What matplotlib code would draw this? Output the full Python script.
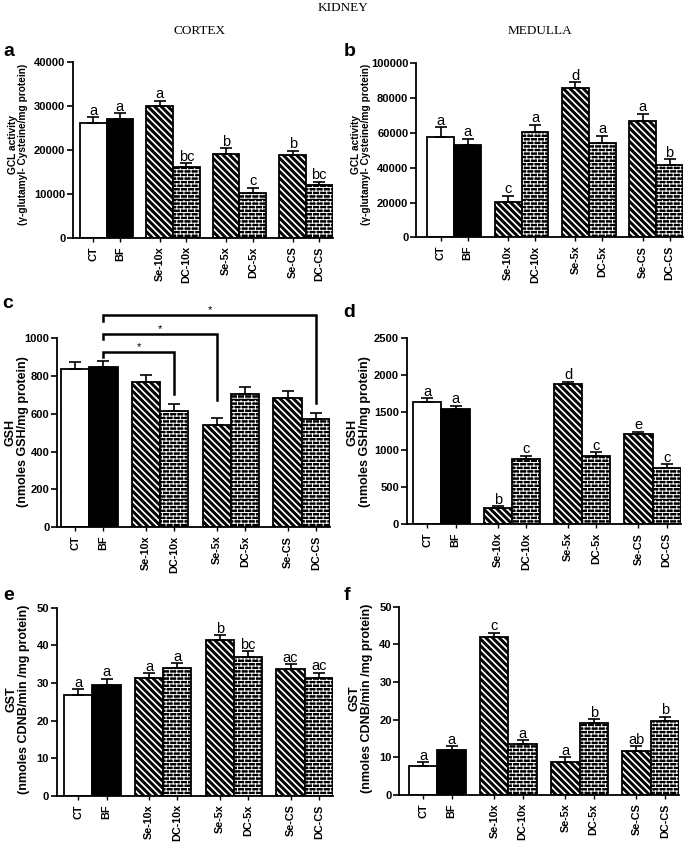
import warnings
import numpy as np
import matplotlib
matplotlib.use("Agg")
import matplotlib.pyplot as plt
import matplotlib.hatch as mhatch
from matplotlib.path import Path

warnings.filterwarnings("ignore")

# ---------------- data ----------------
categories = ["CT", "BF", "Se-10x", "DC-10x", "Se-5x", "DC-5x", "Se-CS", "DC-CS"]
kinds = ["ct", "bf", "se", "dc", "se", "dc", "se", "dc"]

gcl_cortex = [26000, 27100, 29950, 16100, 19050, 10150, 18750, 12050]
gcl_cortex_err = [1400, 1200, 1200, 900, 1300, 1300, 1000, 700]
gcl_cortex_letters = ["a", "a", "a", "bc", "b", "c", "b", "bc"]

gcl_medulla = [57800, 53000, 20100, 60700, 85800, 54400, 66800, 41700]
gcl_medulla_err = [5400, 3700, 3800, 4000, 3300, 4000, 4100, 3100]
gcl_medulla_letters = ["a", "a", "c", "a", "d", "a", "a", "b"]

gsh_cortex = [836, 846, 770, 617, 543, 704, 684, 571]
gsh_cortex_err = [37, 32, 37, 37, 35, 37, 39, 35]

gsh_medulla = [1643, 1540, 215, 875, 1875, 920, 1205, 759]
gsh_medulla_err = [44, 45, 30, 45, 36, 44, 36, 45]
gsh_medulla_letters = ["a", "a", "b", "c", "d", "c", "e", "c"]

gst_cortex = [26.8, 29.6, 31.4, 33.9, 41.4, 37.0, 33.7, 31.4]
gst_cortex_err = [1.5, 1.5, 1.2, 1.3, 1.3, 1.5, 1.3, 1.3]
gst_cortex_letters = ["a", "a", "a", "a", "b", "bc", "ac", "ac"]

gst_medulla = [7.8, 11.9, 41.9, 13.5, 8.8, 19.0, 11.8, 19.6]
gst_medulla_err = [0.9, 1.1, 1.2, 1.1, 1.2, 1.1, 1.1, 1.2]
gst_medulla_letters = ["a", "a", "c", "a", "a", "b", "ab", "b"]

# significance brackets in panel c (BF vs ...)
bracket_from = 1
bracket_to = [3, 4, 7]
bracket_top = [930, 1025, 1122]
bracket_left_end = [903, 997, 1090]
bracket_right_end = [705, 673, 656]

# bar positions (groups separated by a half-bar gap)
positions = [0, 1, 2.5, 3.5, 5, 6, 7.5, 8.5]


# ---------------- custom hatches ----------------
class StripeHatch(mhatch.HatchPatternBase):
    """Filled diagonal bands running top-left to bottom-right."""
    def __init__(self, hatch, density):
        self.n = 15 if "S" in hatch else 0
        self.w = 0.42
        self.num_vertices = (2 * self.n + 1) * 5 if self.n else 0

    def set_vertices_and_codes(self, vertices, codes):
        n = self.n
        i = 0
        for k in range(2 * n + 1):
            c1 = k / n
            c2 = c1 + self.w / n
            pts = [(-0.5, c1 + 0.5), (1.5, c1 - 1.5), (1.5, c2 - 1.5), (-0.5, c2 + 0.5), (-0.5, c1 + 0.5)]
            vertices[i:i + 5] = pts
            codes[i:i + 5] = [Path.MOVETO, Path.LINETO, Path.LINETO, Path.LINETO, Path.CLOSEPOLY]
            i += 5


class BrickHatch(mhatch.HatchPatternBase):
    """Brick wall lines."""
    def __init__(self, hatch, density):
        self.on = "B" in hatch
        self.rows = 28
        self.cols = 14
        self.num_vertices = (self.rows * 2 + self.rows * self.cols * 2) if self.on else 0

    def set_vertices_and_codes(self, vertices, codes):
        r_h = 1.0 / self.rows
        i = 0
        for r in range(self.rows):
            y = (r + 0.5) * r_h
            vertices[i] = (0.0, y)
            vertices[i + 1] = (1.0, y)
            codes[i] = Path.MOVETO
            codes[i + 1] = Path.LINETO
            i += 2
            off = 0.25 if r % 2 == 0 else 0.75
            for j in range(self.cols):
                x = (j + off) / self.cols
                vertices[i] = (x, y)
                vertices[i + 1] = (x, y + r_h)
                codes[i] = Path.MOVETO
                codes[i + 1] = Path.LINETO
                i += 2


mhatch._hatch_types.append(StripeHatch)
mhatch._hatch_types.append(BrickHatch)

plt.rcParams["font.family"] = ["Liberation Sans", "DejaVu Sans"]
plt.rcParams["hatch.linewidth"] = 0.7

W, H = 685, 843
fig = plt.figure(figsize=(W / 100, H / 100), dpi=100)


def rect(xl, xr, yt, yb):
    return [xl / W, 1 - yb / H, (xr - xl) / W, (yb - yt) / H]


EDGE_LW = 1.3


def draw_panel(box, xleft, means, errs, ymax, yticks, ylabel, ylabel_size,
               ylabel_px, letters=None):
    xl, xr, yt, yb = box
    ax = fig.add_axes(rect(xl, xr, yt, yb))
    for p, m, k in zip(positions, means, kinds):
        if k == "ct":
            ax.bar(p, m, width=1.0, color="white", edgecolor="black", linewidth=EDGE_LW, zorder=2)
        elif k == "bf":
            ax.bar(p, m, width=1.0, color="black", edgecolor="black", linewidth=EDGE_LW, zorder=2)
        elif k == "se":
            ax.bar(p, m, width=1.0, color="white", edgecolor="black", hatch="S",
                   linewidth=EDGE_LW, zorder=2)
        else:
            ax.bar(p, m, width=1.0, color="black", edgecolor="white", hatch="B",
                   linewidth=0, zorder=2)
            ax.bar(p, m, width=1.0, fill=False, edgecolor="black", linewidth=EDGE_LW, zorder=2.1)
    ax.errorbar(positions, means, yerr=[np.zeros(len(means)), errs], fmt="none",
                ecolor="black", elinewidth=1.2, capsize=4.5, capthick=1.2, zorder=3)
    if letters is not None:
        for p, m, e, t in zip(positions, means, errs, letters):
            ax.annotate(t, (p, m + e), xytext=(0, 1.8), textcoords="offset points",
                        ha="center", va="baseline", fontsize=10.5)
    ax.set_xlim(xleft, 9.0)
    ax.set_ylim(0, ymax)
    ax.set_yticks(yticks)
    ax.set_xticks(positions)
    ax.set_xticklabels(categories, rotation=90, fontsize=7.8, fontweight="bold")
    for lab in ax.get_yticklabels():
        lab.set_fontsize(8)
        lab.set_fontweight("bold")
    ax.tick_params(axis="y", direction="out", length=4, width=1.2, pad=1.5)
    ax.tick_params(axis="x", direction="out", length=3, width=1.0, pad=3)
    for s in ["top", "right"]:
        ax.spines[s].set_visible(False)
    for s in ["left", "bottom"]:
        ax.spines[s].set_linewidth(1.3)
    ax.set_ylabel(ylabel, fontsize=ylabel_size, fontweight="bold", va="center", ha="center",
                  linespacing=1.05)
    px, py = ylabel_px
    ax.yaxis.set_label_coords((px - xl) / (xr - xl), (yb - py) / (yb - yt))
    return ax


gcl_label = "GCL activity\n(\u03b3-glutamyl- Cysteine/mg protein)"
gsh_label = "GSH\n(nmoles GSH/mg protein)"
gst_label = "GST\n(nmoles CDNB/min /mg protein)"

axa = draw_panel((73, 332.5, 61.7, 238), -0.763, gcl_cortex, gcl_cortex_err, 40000,
                 [0, 10000, 20000, 30000, 40000], gcl_label, 7.3, (18, 144),
                 gcl_cortex_letters)
axb = draw_panel((416, 683, 63.3, 237.3), -0.92, gcl_medulla, gcl_medulla_err, 100000,
                 [0, 20000, 40000, 60000, 80000, 100000], gcl_label, 7.3, (361, 144),
                 gcl_medulla_letters)
axc = draw_panel((57, 330, 338.3, 527.3), -0.64, gsh_cortex, gsh_cortex_err, 1000,
                 [0, 200, 400, 600, 800, 1000], gsh_label, 9.0, (17, 432))
axd = draw_panel((406.7, 680.7, 337.7, 524.3), -0.735, gsh_medulla, gsh_medulla_err, 2500,
                 [0, 500, 1000, 1500, 2000, 2500], gsh_label, 9.0, (359, 432),
                 gsh_medulla_letters)
axe = draw_panel((56.7, 333, 607.7, 796), -0.76, gst_cortex, gst_cortex_err, 50,
                 [0, 10, 20, 30, 40, 50], gst_label, 9.0, (17.5, 699),
                 gst_cortex_letters)
axf = draw_panel((399.3, 679, 606.7, 795), -0.84, gst_medulla, gst_medulla_err, 50,
                 [0, 10, 20, 30, 40, 50], gst_label, 9.0, (360.5, 698),
                 gst_medulla_letters)

# significance brackets (panel c)
xf = positions[bracket_from]
for t, top, lend, rend in zip(bracket_to, bracket_top, bracket_left_end, bracket_right_end):
    xt = positions[t]
    axc.plot([xf, xf, xt, xt], [lend, top, top, rend], color="black", lw=1.8,
             clip_on=False, solid_joinstyle="miter", zorder=4)
    axc.annotate("*", ((xf + xt) / 2, top), xytext=(0, 1.2), textcoords="offset points",
                 ha="center", va="baseline", fontsize=8, annotation_clip=False)

# panel letters
for lab, (px, py) in zip("abcdef", [(3, 56), (344, 56), (2, 308), (343, 317), (3, 600), (344, 600)]):
    fig.text(px / W, 1 - py / H, lab, fontsize=14, fontweight="bold", ha="left", va="baseline")

serif = ["Liberation Serif", "DejaVu Serif"]
fig.text(343 / W, 1 - 8 / H, "KIDNEY", family=serif, fontsize=9.5, ha="center", va="center")
fig.text(200 / W, 1 - 31 / H, "CORTEX", family=serif, fontsize=9.5, ha="center", va="center")
fig.text(540 / W, 1 - 31 / H, "MEDULLA", family=serif, fontsize=9.5, ha="center", va="center")

fig.savefig("out.png", dpi=100)
